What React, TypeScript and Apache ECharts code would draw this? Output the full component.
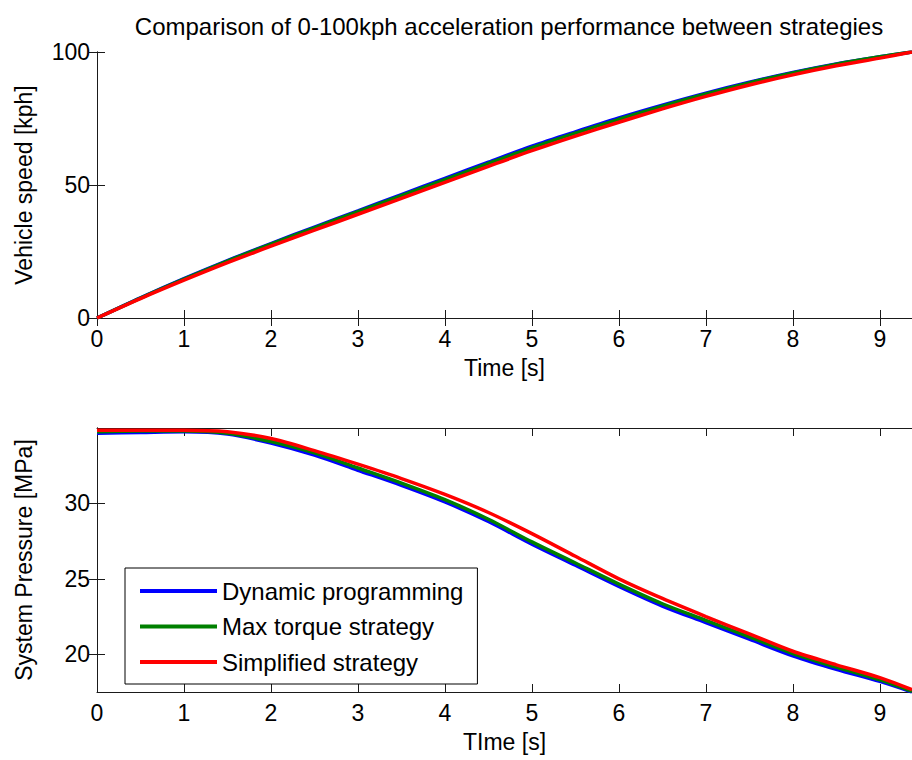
import React, { useEffect, useRef } from "react";
import * as echarts from "echarts";

// Time samples [s]
const timeS = [0, 0.5, 1, 1.5, 2, 2.5, 3, 3.5, 4, 4.5, 5, 5.5, 6, 6.5, 7, 7.5, 8, 8.5, 9, 9.37];

// Vehicle speed [kph]
const speedDP = [0, 7.6, 14.8, 21.6, 28.0, 34.2, 40.3, 46.4, 52.5, 58.6, 64.6, 70.0, 75.2, 80.0, 84.5, 88.6, 92.3, 95.5, 98.2, 100];
const speedMT = [0, 7.5, 14.6, 21.4, 27.8, 33.9, 40.0, 46.0, 52.0, 58.1, 64.0, 69.5, 74.7, 79.6, 84.2, 88.4, 92.1, 95.4, 98.2, 100];
const speedSS = [0, 7.3, 14.2, 20.8, 27.0, 33.0, 39.0, 45.0, 51.0, 57.0, 62.9, 68.4, 73.6, 78.6, 83.3, 87.6, 91.4, 94.8, 97.7, 100];

// System pressure [MPa]
const pressDP = [34.65, 34.7, 34.75, 34.6, 34.0, 33.2, 32.2, 31.2, 30.1, 28.8, 27.3, 25.9, 24.5, 23.2, 22.1, 21.0, 19.9, 19.0, 18.2, 17.5];
const pressMT = [34.75, 34.8, 34.8, 34.65, 34.1, 33.35, 32.35, 31.35, 30.25, 28.95, 27.45, 26.05, 24.65, 23.35, 22.25, 21.15, 20.05, 19.15, 18.3, 17.55];
const pressSS = [34.85, 34.85, 34.85, 34.75, 34.3, 33.5, 32.6, 31.65, 30.6, 29.4, 28.0, 26.5, 25.0, 23.7, 22.5, 21.35, 20.2, 19.3, 18.45, 17.65];

// Tick values
const timeTicks = [0, 1, 2, 3, 4, 5, 6, 7, 8, 9];
const speedTicks = [0, 50, 100];
const pressTicks = [20, 25, 30];

const seriesNames = ["Dynamic programming", "Max torque strategy", "Simplified strategy"];
const seriesColors = ["#0000ff", "#008000", "#ff0000"];

const FONT = "'Liberation Sans', Arial, Helvetica, sans-serif";
const AXIS_COLOR = "#1a1a1a";

const pair = (xs: number[], ys: number[]) => xs.map((x, i) => [x, ys[i]]);

function boxAxisX(gridIndex: number, position: "top" | "bottom", withLabels: boolean, name?: string) {
  return {
    type: "value",
    gridIndex,
    position,
    min: 0,
    max: 9.37,
    name: name ?? "",
    nameLocation: "middle",
    nameGap: 38,
    nameTextStyle: { fontFamily: FONT, fontSize: 23, color: "#000" },
    axisLine: { show: true, lineStyle: { color: AXIS_COLOR, width: 1 } },
    axisTick: { show: true, inside: true, length: 8, customValues: timeTicks, lineStyle: { color: AXIS_COLOR } },
    axisLabel: {
      show: withLabels,
      customValues: timeTicks,
      margin: 9,
      fontFamily: FONT,
      fontSize: 23,
      color: "#000",
    },
    splitLine: { show: false },
  };
}

function boxAxisY(
  gridIndex: number,
  position: "left" | "right",
  withLabels: boolean,
  min: number,
  max: number,
  ticks: number[],
  name?: string
) {
  return {
    type: "value",
    gridIndex,
    position,
    min,
    max,
    name: name ?? "",
    nameLocation: "middle",
    nameGap: 62,
    nameTextStyle: { fontFamily: FONT, fontSize: 23, color: "#000" },
    axisLine: { show: true, lineStyle: { color: AXIS_COLOR, width: 1 } },
    axisTick: { show: true, inside: true, length: 8, customValues: ticks, lineStyle: { color: AXIS_COLOR } },
    axisLabel: {
      show: withLabels,
      customValues: ticks,
      margin: 7,
      fontFamily: FONT,
      fontSize: 23,
      color: "#000",
    },
    splitLine: { show: false },
  };
}

function lineSeries(name: string, color: string, data: number[][], axisIndex: number) {
  return {
    type: "line",
    name,
    xAxisIndex: axisIndex,
    yAxisIndex: axisIndex,
    data,
    showSymbol: false,
    symbol: "none",
    smooth: 0.3,
    lineStyle: { color, width: 3.5 },
    itemStyle: { color },
  };
}

export default function App() {
  const ref = useRef<HTMLDivElement>(null);

  useEffect(() => {
    if (!ref.current) return;
    const chart = echarts.init(ref.current, undefined, { renderer: "svg" });

    const speedSets = [speedDP, speedMT, speedSS];
    const pressSets = [pressDP, pressMT, pressSS];

    chart.setOption({
      animation: false,
      backgroundColor: "#ffffff",
      title: {
        text: "Comparison of 0-100kph acceleration performance between strategies",
        left: 504,
        top: 9,
        textAlign: "center",
        textStyle: { fontFamily: FONT, fontSize: 24, fontWeight: "normal", color: "#000" },
      },
      grid: [
        { left: 97, top: 52, width: 815, height: 266 },
        { left: 97, top: 428, width: 815, height: 264 },
      ],
      xAxis: [
        boxAxisX(0, "bottom", true, "Time [s]"),
        boxAxisX(0, "top", false),
        boxAxisX(1, "bottom", true, "TIme [s]"),
        boxAxisX(1, "top", false),
      ],
      yAxis: [
        boxAxisY(0, "left", true, 0, 100, speedTicks, "Vehicle speed [kph]"),
        boxAxisY(0, "right", false, 0, 100, speedTicks),
        boxAxisY(1, "left", true, 17.5, 35, pressTicks, "System Pressure [MPa]"),
        boxAxisY(1, "right", false, 17.5, 35, pressTicks),
      ],
      legend: {
        data: seriesNames,
        orient: "vertical",
        left: 125,
        top: 568,
        icon: "rect",
        itemWidth: 77,
        itemHeight: 4,
        itemGap: 11.5,
        padding: [11, 14, 10, 15],
        borderColor: "#000",
        borderWidth: 1,
        backgroundColor: "#ffffff",
        textStyle: { fontFamily: FONT, fontSize: 24, lineHeight: 24, color: "#000" },
      },
      series: [
        ...seriesNames.map((n, i) => lineSeries(n, seriesColors[i], pair(timeS, speedSets[i]), 0)),
        ...seriesNames.map((n, i) => lineSeries(n, seriesColors[i], pair(timeS, pressSets[i]), 2)),
      ],
    });

    return () => chart.dispose();
  }, []);

  return (
    <div
      ref={ref}
      style={{ position: "fixed", left: 0, top: 0, width: 912, height: 760 }}
    />
  );
}
